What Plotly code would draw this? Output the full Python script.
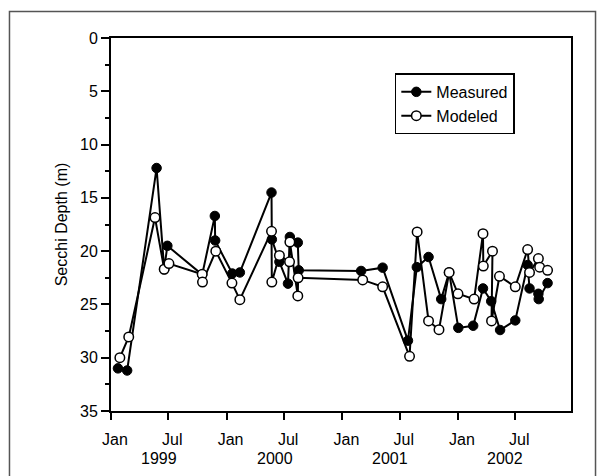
import plotly.graph_objects as go

# ---- data ----
measured_dates = [
    "1999-01-23", "1999-02-21", "1999-05-25", "1999-06-18", "1999-06-28",
    "1999-10-16", "1999-11-25", "1999-11-26", "2000-01-19", "2000-02-12",
    "2000-05-22", "2000-05-23", "2000-06-16", "2000-07-13", "2000-07-19",
    "2000-08-13", "2000-08-16", "2001-03-01", "2001-05-08", "2001-07-27",
    "2001-08-24", "2001-09-30", "2001-11-09", "2001-12-04", "2002-01-02",
    "2002-02-18", "2002-03-21", "2002-04-16", "2002-05-14", "2002-07-01",
    "2002-08-09", "2002-08-15", "2002-09-12", "2002-09-13", "2002-10-11",
]
measured_depth = [
    31.0, 31.2, 12.2, 21.7, 19.5,
    22.2, 16.7, 19.0, 22.1, 22.0,
    14.5, 18.9, 21.0, 23.05, 18.67,
    19.2, 21.8, 21.86, 21.55, 28.4,
    21.5, 20.55, 24.5, 22.0, 27.2,
    27.0, 23.5, 24.7, 27.4, 26.5,
    21.3, 23.5, 24.0, 24.5, 23.0,
]

modeled_dates = [
    "1999-01-29", "1999-02-26", "1999-05-20", "1999-06-18", "1999-07-03",
    "1999-10-16", "1999-10-17", "1999-11-28", "2000-01-18", "2000-02-12",
    "2000-05-22", "2000-05-23", "2000-06-16", "2000-07-18", "2000-07-19",
    "2000-08-13", "2000-08-14", "2001-03-06", "2001-05-08", "2001-08-01",
    "2001-08-25", "2001-09-30", "2001-11-02", "2001-12-04", "2002-01-01",
    "2002-02-21", "2002-03-21", "2002-03-22", "2002-04-20", "2002-04-17",
    "2002-05-12", "2002-07-01", "2002-08-09", "2002-08-15", "2002-09-12",
    "2002-09-16", "2002-10-11",
]
modeled_depth = [
    30.0, 28.05, 16.85, 21.7, 21.17,
    22.17, 22.9, 20.0, 23.0, 24.55,
    18.14, 22.9, 20.4, 21.0, 19.15,
    24.2, 22.5, 22.7, 23.35, 29.87,
    18.2, 26.55, 27.37, 22.0, 24.0,
    24.5, 18.36, 21.4, 20.0, 26.55,
    22.36, 23.35, 19.85, 22.0, 20.7,
    21.5, 21.8,
]

x_tick_vals = ["1999-01-01", "1999-07-01", "2000-01-01", "2000-07-01",
               "2001-01-01", "2001-07-01", "2002-01-01", "2002-07-01"]
x_tick_text = ["Jan", "Jul", "Jan", "Jul", "Jan", "Jul", "Jan", "Jul"]
year_labels = ["1999", "2000", "2001", "2002"]
year_label_pos = ["1999-06-03", "2000-06-01", "2001-06-01", "2002-05-28"]

FONT = "Liberation Sans, Arial, Helvetica, sans-serif"

fig = go.Figure()
fig.add_trace(go.Scatter(
    x=measured_dates, y=measured_depth, name="Measured",
    mode="lines+markers",
    line=dict(color="black", width=2),
    marker=dict(symbol="circle", size=9.5, color="black",
                line=dict(color="black", width=1)),
))
fig.add_trace(go.Scatter(
    x=modeled_dates, y=modeled_depth, name="Modeled",
    mode="lines+markers",
    line=dict(color="black", width=2),
    marker=dict(symbol="circle", size=9.5, color="white",
                line=dict(color="black", width=1.5)),
))

for lab, pos in zip(year_labels, year_label_pos):
    fig.add_annotation(x=pos, y=-0.127, xref="x", yref="paper",
                       text=lab, showarrow=False,
                       font=dict(family=FONT, size=16, color="black"),
                       xanchor="center", yanchor="middle")

# outer frame
fig.add_shape(type="rect", xref="paper", yref="paper",
              x0=-0.2207, x1=1.0533, y0=-0.25, y1=1.071,
              line=dict(color="#555555", width=1.5), layer="below")

fig.update_layout(
    width=601, height=476,
    margin=dict(l=111, r=30, t=38, b=65),
    paper_bgcolor="white", plot_bgcolor="white",
    font=dict(family=FONT, size=16, color="black"),
    showlegend=True,
    legend=dict(x=0.617, y=0.905, xanchor="left", yanchor="top",
                bordercolor="black", borderwidth=1.5, bgcolor="white",
                font=dict(family=FONT, size=16, color="black"),
                tracegroupgap=0, itemwidth=30,
                entrywidth=88, entrywidthmode="pixels"),
    xaxis=dict(
        type="date", range=["1999-01-01", "2002-12-24"],
        tickmode="array", tickvals=x_tick_vals, ticktext=x_tick_text,
        ticks="outside", ticklen=7, tickwidth=1.5, tickcolor="black",
        showline=True, linecolor="black", linewidth=2, mirror=True,
        showgrid=False, zeroline=False, ticklabelshift=4,
        ticklabelstandoff=6,
        tickfont=dict(family=FONT, size=16, color="black"),
    ),
    yaxis=dict(
        range=[35, 0], tickmode="linear", tick0=0, dtick=5,
        ticks="outside", ticklen=8, tickwidth=1.5, tickcolor="black",
        minor=dict(dtick=2.5, ticks="outside", ticklen=4, tickwidth=1.5,
                   tickcolor="black"),
        showline=True, linecolor="black", linewidth=2, mirror=True,
        showgrid=False, zeroline=False,
        tickfont=dict(family=FONT, size=16, color="black"),
        title=dict(text="Secchi Depth (m)", standoff=8,
                   font=dict(family=FONT, size=16, color="black")),
    ),
)

fig.write_html("out.html")
